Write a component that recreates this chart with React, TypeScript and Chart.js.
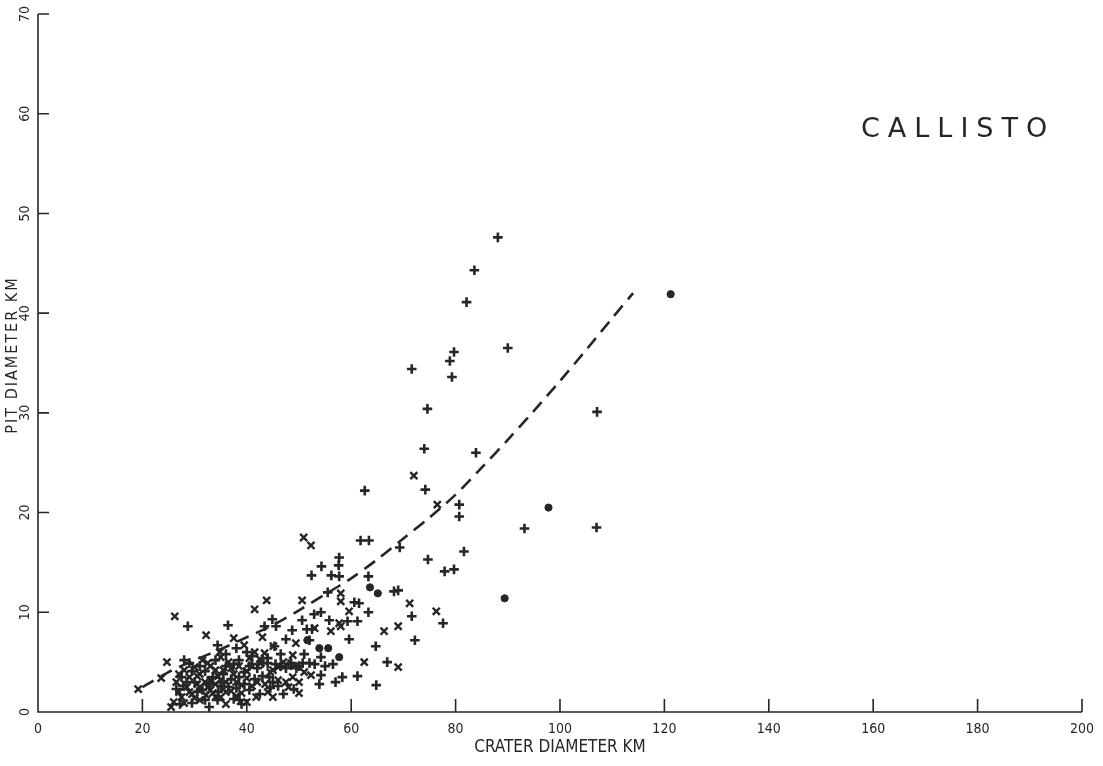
import React, { useEffect, useRef } from 'react';
import { Chart, registerables } from 'chart.js';

Chart.register(...registerables);

const xTicks = [0, 20, 40, 60, 80, 100, 120, 140, 160, 180, 200];
const yTicks = [0, 10, 20, 30, 40, 50, 60, 70];

const xTitle = 'CRATER DIAMETER KM';
const yTitle = 'PIT DIAMETER KM';
const bodyName = 'CALLISTO';

// dashed fitted curve
const curveX = [20, 25, 30, 35, 40, 45, 50, 55, 60, 65, 70, 75, 80, 85, 90, 95, 100, 105, 110, 114];
const curveY = [2.5, 4.0, 5.2, 6.3, 7.5, 8.7, 10.2, 11.8, 13.4, 15.3, 17.4, 19.5, 21.8, 24.5, 27.3, 30.2, 33.2, 36.3, 39.5, 42.0];

// "+" symbols
const plusPoints: [number, number][] = [
  [28.7, 8.6], [36.4, 8.7], [34.4, 6.7], [38, 6.4], [44.9, 9.3], [45.6, 8.6], [43.4, 8.6], [45.3, 6.6],
  [47.5, 7.3], [48.7, 8.2], [50.6, 9.2], [51.5, 8.3], [52.5, 8.3], [50.7, 4.9], [52, 7.2], [52.9, 9.8],
  [54.2, 10.0], [54.2, 5.5], [54.2, 3.7], [53.9, 2.8], [55.5, 12.0], [55.8, 9.2], [52.4, 13.7], [54.3, 14.6],
  [56.2, 13.7], [57.7, 13.6], [57.6, 14.7], [57.7, 15.5], [59.3, 9.1], [59.6, 7.3], [60.6, 11.0], [61.5, 10.9],
  [61.2, 9.1], [58.3, 3.5], [61.2, 3.6], [61.8, 17.2], [63.4, 17.2], [62.6, 22.2], [63.3, 13.6], [63.3, 10.0],
  [64.7, 6.6], [64.8, 2.7], [66.9, 5.0], [68.2, 12.1], [69.0, 12.2], [69.3, 16.5], [71.6, 9.6], [72.2, 7.2],
  [71.6, 34.4], [74.0, 26.4], [74.2, 22.3], [74.6, 30.4], [74.7, 15.3], [77.6, 8.9], [77.9, 14.1], [79.7, 14.3],
  [78.9, 35.2], [79.3, 33.6], [79.7, 36.1], [80.7, 20.8], [80.7, 19.6], [81.6, 16.1], [82.1, 41.1], [83.6, 44.3],
  [83.9, 26.0], [88.1, 47.6], [90.0, 36.5], [93.2, 18.4], [107.0, 18.5], [107.1, 30.1], [44.3, 3.5], [34.4, 1.2],
  [38.6, 1.2], [30, 3], [31.5, 2.2], [32, 4.1], [33.5, 3.5], [34, 5.2], [35, 2.6], [36, 4.6], [37, 3.3],
  [38, 2.4], [38.5, 5.2], [39.5, 4.0], [40.5, 2.2], [41, 4.8], [42, 4.4], [43, 3.6], [44, 4.9], [45.5, 4.8],
  [46.5, 4.6], [47.5, 4.4], [48.5, 4.9], [46, 2.6], [47, 1.8], [49.5, 4.4], [51, 5.8], [46.5, 5.8], [44.5, 2.4],
  [42.5, 1.8], [39, 0.8], [29, 4.9], [28, 5.2], [27.5, 3.5], [26.5, 2.3], [27.2, 0.8], [29.5, 0.9], [32.8, 0.5],
  [37.5, 1.3], [56.5, 4.8], [55, 4.6], [53, 4.8], [57, 3.0], [49, 2.3], [40, 6.0], [41, 5.6], [36, 5.8],
  [28.5, 3.0], [29.5, 4.1], [30.5, 2.0], [31, 4.6], [32, 1.2], [33, 2.8], [34.5, 2.0], [35.5, 3.8], [36.5, 2.5],
  [37.5, 4.8], [38.5, 3.5], [39.5, 2.8], [40.5, 4.6], [41.5, 3.3], [43, 4.9], [45, 3.0], [48, 4.8], [50, 4.6],
  [52, 4.9], [44, 5.4], [27.8, 2.6]
];

// "x" symbols
const crossPoints: [number, number][] = [
  [19.2, 2.3], [23.6, 3.4], [24.7, 5.0], [26.2, 9.6], [25.5, 0.5], [26, 1.0], [27, 2.0], [26.5, 3.0],
  [28, 4.2], [27.5, 1.5], [28.5, 2.5], [29, 3.5], [29.5, 1.8], [30, 4.5], [30.5, 2.8], [31, 1.2], [31, 3.8],
  [31.5, 5.2], [32.2, 1.7], [32.2, 7.7], [32.5, 2.5], [33, 3.2], [33, 4.6], [33.5, 1.9], [34, 2.8], [34.5, 3.6],
  [34.8, 6.0], [35, 1.5], [35.5, 2.3], [35.5, 4.2], [36, 3.0], [36.5, 5.0], [37, 2.1], [37.5, 7.4], [37.5, 3.8],
  [38, 1.6], [38.5, 4.6], [39, 2.7], [39.5, 6.7], [40, 3.4], [40.5, 5.4], [41.5, 6.0], [41.5, 10.3], [41.8, 1.5],
  [42, 3.0], [42.7, 4.9], [43, 7.5], [43.4, 5.9], [43.8, 11.2], [44, 2.0], [45, 4.2], [45.1, 6.6], [46, 3.2],
  [47, 5.0], [48, 2.5], [48.8, 5.7], [48.8, 3.5], [49.4, 6.9], [50, 3.0], [50, 1.9], [50.6, 11.2], [50.9, 17.5],
  [52.3, 16.7], [52.3, 3.7], [53, 8.4], [56.1, 8.1], [57.7, 8.9], [58, 11.9], [58, 11.1], [58, 8.6], [59.6, 10.1],
  [62.5, 5.0], [66.3, 8.1], [69, 8.6], [69, 4.5], [71.2, 10.9], [72, 23.7], [76.3, 10.1], [76.5, 20.8],
  [45, 1.5], [40, 1.0], [36, 0.8], [27, 3.8], [28, 0.9], [29, 2.0], [30, 1.4], [31, 2.5], [32, 3.0], [33, 2.2],
  [34, 1.5], [34, 4.2], [35, 3.2], [36, 2.0], [37, 4.4], [38, 3.0], [39, 1.9], [40, 4.1], [41, 2.6], [42.5, 5.3],
  [43.5, 2.8], [44.5, 4.0], [46, 4.5], [47.5, 3.0], [49, 4.6], [51, 4.0], [30.5, 3.6], [32.5, 4.9], [35, 5.5]
];

// filled dots
const dotPoints: [number, number][] = [
  [121.2, 41.9], [97.8, 20.5], [89.4, 11.4], [65.1, 11.9], [63.6, 12.5], [57.7, 5.5], [51.6, 7.2],
  [53.9, 6.4], [55.6, 6.4]
];

const INK = '#262626';
const NARROW = "'Liberation Sans Narrow', 'DejaVu Sans Condensed', 'Arial Narrow', sans-serif";

const toXY = (arr: [number, number][]) => arr.map(([x, y]) => ({ x, y }));

const decor = {
  id: 'decor',
  afterDraw(chart: any) {
    const { ctx, chartArea: a, scales } = chart;
    const xs = scales.x;
    const ys = scales.y;
    ctx.save();
    ctx.strokeStyle = INK;
    ctx.lineWidth = 1.6;
    ctx.beginPath();
    ctx.moveTo(a.left, a.top);
    ctx.lineTo(a.left, a.bottom);
    ctx.lineTo(a.right, a.bottom);
    xTicks.forEach((v) => {
      const px = xs.getPixelForValue(v);
      ctx.moveTo(px, a.bottom);
      ctx.lineTo(px, a.bottom - 13);
    });
    yTicks.forEach((v) => {
      const py = ys.getPixelForValue(v);
      ctx.moveTo(a.left, py);
      ctx.lineTo(a.left + 11, py);
    });
    ctx.stroke();

    ctx.fillStyle = INK;
    ctx.textAlign = 'center';
    ctx.textBaseline = 'middle';

    // rotated y tick labels
    ctx.font = `14px ${NARROW}`;
    yTicks.forEach((v) => {
      const py = ys.getPixelForValue(v);
      ctx.save();
      ctx.translate(a.left - 13, py);
      ctx.rotate(-Math.PI / 2);
      ctx.fillText(String(v), 0, 0);
      ctx.restore();
    });

    // rotated y title
    ctx.save();
    ctx.font = `16px ${NARROW}`;
    (ctx as any).letterSpacing = '2px';
    ctx.translate(a.left - 25, (a.top + a.bottom) / 2 - 8);
    ctx.rotate(-Math.PI / 2);
    ctx.fillText(yTitle, 0, 0);
    ctx.restore();

    ctx.font = "27px 'DejaVu Sans', sans-serif";
    (ctx as any).letterSpacing = '8px';
    ctx.fillText(bodyName, xs.getPixelForValue(175.5) + 4, ys.getPixelForValue(58.4));
    ctx.restore();
  }
};

export default function App() {
  const ref = useRef<HTMLCanvasElement | null>(null);

  useEffect(() => {
    if (!ref.current) return;
    const chart = new Chart(ref.current, {
      type: 'scatter',
      data: {
        datasets: [
          {
            type: 'line',
            data: curveX.map((x, i) => ({ x, y: curveY[i] })),
            borderColor: INK,
            borderWidth: 2.6,
            borderDash: [13, 8],
            pointRadius: 0,
            fill: false,
            tension: 0.3
          } as any,
          {
            data: toXY(plusPoints),
            pointStyle: 'cross',
            pointRadius: 4.8,
            pointBorderWidth: 2.6,
            borderColor: INK,
            backgroundColor: INK
          },
          {
            data: toXY(crossPoints),
            pointStyle: 'crossRot',
            pointRadius: 5.0,
            pointBorderWidth: 2.4,
            borderColor: INK,
            backgroundColor: INK
          },
          {
            data: toXY(dotPoints),
            pointStyle: 'circle',
            pointRadius: 3.6,
            pointBorderWidth: 1,
            borderColor: INK,
            backgroundColor: INK
          }
        ]
      },
      options: {
        animation: false,
        responsive: false,
        layout: { padding: { top: 14, right: 18, left: 0, bottom: 0 } },
        plugins: {
          legend: { display: false },
          tooltip: { enabled: false }
        },
        scales: {
          x: {
            type: 'linear',
            min: 0,
            max: 200,
            grid: { display: false, drawTicks: false },
            border: { display: false },
            ticks: {
              stepSize: 20,
              padding: 9,
              color: INK,
              font: { family: NARROW, size: 14 }
            },
            title: {
              display: true,
              text: xTitle,
              color: INK,
              font: { family: NARROW, size: 17 },
              padding: { top: 0, bottom: 8 }
            },
            afterFit: (s: any) => { s.height = 54; }
          },
          y: {
            type: 'linear',
            min: 0,
            max: 70,
            grid: { display: false, drawTicks: false },
            border: { display: false },
            ticks: {
              stepSize: 10,
              display: false
            },
            title: { display: false },
            afterFit: (s: any) => { s.width = 38; }
          }
        }
      },
      plugins: [decor]
    });
    return () => chart.destroy();
  }, []);

  return (
    <div style={{ position: 'fixed', left: 0, top: 0, width: 1103, height: 766, background: '#fff' }}>
      <canvas ref={ref} width={1103} height={766} />
    </div>
  );
}
